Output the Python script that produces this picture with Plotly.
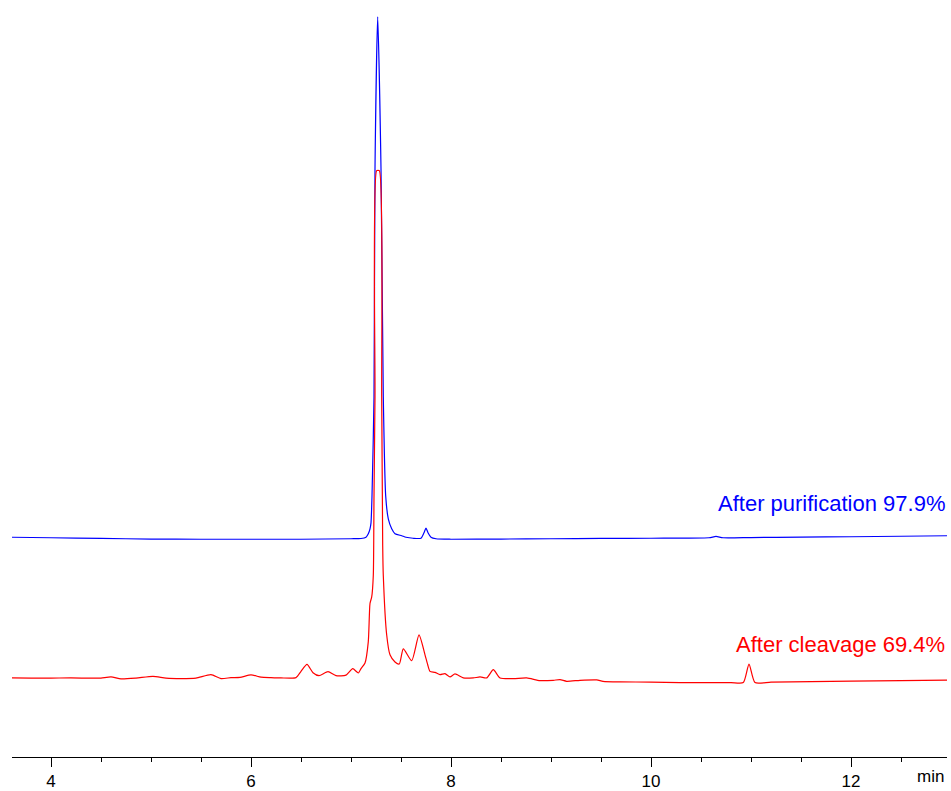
import plotly.graph_objects as go

# Retention time (min) and detector signal (a.u.)
blue_time = [3.61, 4.00, 4.50, 5.00, 5.50, 6.00, 6.50, 7.00, 7.10, 7.15, 7.173, 7.19, 7.20,
             7.21, 7.23, 7.24, 7.267, 7.30, 7.323, 7.347, 7.373, 7.407, 7.44, 7.507, 7.55,
             7.62, 7.70, 7.73, 7.75, 7.77, 7.80, 7.85, 8.00, 8.50, 9.00, 9.50, 10.00, 10.58,
             10.65, 10.72, 11.00, 11.50, 12.00, 12.50, 12.96]
blue_signal = [221.5, 221.0, 220.3, 219.7, 219.5, 219.5, 219.5, 220.0, 220.2, 221.5, 225.0,
               230.0, 236.0, 263.0, 363.0, 593.0, 746.0, 593.0, 363.0, 263.0, 240.0, 230.0,
               225.0, 223.0, 221.5, 220.5, 220.5, 226.0, 230.7, 226.0, 221.5, 220.0, 219.5,
               219.7, 220.0, 220.3, 220.5, 221.0, 222.3, 221.0, 221.2, 221.6, 222.0, 222.5,
               223.0]

red_time = [3.61, 3.80, 4.00, 4.20, 4.40, 4.50, 4.60, 4.70, 4.85, 5.02, 5.15, 5.30, 5.45,
            5.60, 5.70, 5.80, 5.89, 6.00, 6.10, 6.20, 6.30, 6.45, 6.50, 6.56, 6.62, 6.68,
            6.77, 6.85, 6.95, 7.017, 7.073, 7.10, 7.14, 7.173, 7.19, 7.207, 7.223, 7.23,
            7.24, 7.257, 7.283, 7.307, 7.317, 7.323, 7.357, 7.39, 7.44, 7.483, 7.523, 7.607,
            7.68, 7.74, 7.767, 7.79, 7.84, 7.89, 7.94, 7.99, 8.04, 8.123, 8.223, 8.29, 8.357,
            8.423, 8.49, 8.623, 8.757, 8.89, 9.023, 9.09, 9.157, 9.29, 9.457, 9.52, 9.69,
            10.00, 10.29, 10.50, 10.80, 10.923, 10.98, 11.04, 11.20, 11.60, 12.00, 12.50,
            12.96]
red_signal = [79.7, 79.5, 79.5, 79.8, 79.4, 79.6, 80.7, 78.7, 79.5, 81.3, 79.5, 79.0, 79.5,
              83.0, 79.0, 80.0, 80.3, 82.7, 80.5, 80.0, 79.7, 80.0, 86.3, 93.3, 85.0, 82.0,
              86.0, 82.0, 82.5, 89.0, 84.7, 89.0, 94.7, 116.3, 154.7, 161.3, 183.0, 263.0,
              363.0, 591.0, 591.0, 363.0, 213.0, 183.0, 123.0, 103.0, 95.7, 93.7, 109.0, 97.0,
              123.0, 103.0, 93.0, 86.3, 85.3, 83.0, 84.0, 80.7, 83.7, 79.7, 79.7, 80.7, 79.7,
              88.0, 79.7, 79.0, 79.7, 77.0, 77.3, 78.0, 76.3, 77.3, 77.7, 76.3, 75.7, 75.5,
              75.0, 75.0, 75.0, 75.0, 93.7, 75.0, 75.5, 76.0, 76.5, 77.0, 77.5]

tick_values = [4, 6, 8, 10, 12]
tick_labels = ["4", "6", "8", "10", "12"]
label_blue = "After purification 97.9%"
label_red = "After cleavage 69.4%"
x_unit = "min"

font_family = "Arial, Liberation Sans, sans-serif"

fig = go.Figure()
fig.add_trace(go.Scatter(x=blue_time, y=blue_signal, mode="lines",
                         line=dict(color="#0000FF", width=1.2, shape="spline", smoothing=0.6),
                         showlegend=False, hoverinfo="skip"))
fig.add_trace(go.Scatter(x=red_time, y=red_signal, mode="lines",
                         line=dict(color="#FF0000", width=1.2, shape="spline", smoothing=0.6),
                         showlegend=False, hoverinfo="skip"))

fig.add_annotation(x=12.96, y=256, xref="x", yref="y", text=label_blue, showarrow=False,
                   xanchor="right", yanchor="middle",
                   font=dict(family=font_family, size=22, color="#0000FF"))
fig.add_annotation(x=12.96, y=113, xref="x", yref="y", text=label_red, showarrow=False,
                   xanchor="right", yanchor="middle",
                   font=dict(family=font_family, size=22, color="#FF0000"))
fig.add_annotation(x=12.79, y=0, xref="x", yref="paper", text=x_unit, showarrow=False,
                   xanchor="center", yanchor="middle", yshift=-19,
                   font=dict(family=font_family, size=17, color="black"))

fig.update_layout(
    width=951, height=791,
    margin=dict(l=12, r=4, t=0, b=28),
    paper_bgcolor="white", plot_bgcolor="white",
    font=dict(family=font_family, size=17, color="black"),
    xaxis=dict(range=[3.61, 12.96], showgrid=False, zeroline=False,
               showline=True, linecolor="black", linewidth=1,
               ticks="outside", ticklen=9, tickwidth=1, tickcolor="black",
               tickvals=tick_values, ticktext=tick_labels,
               tickfont=dict(size=17, color="black"),
               minor=dict(dtick=0.5, tick0=4, ticks="outside", ticklen=4,
                          tickwidth=1, tickcolor="black", showgrid=False)),
    yaxis=dict(range=[0, 763], visible=False, showgrid=False, zeroline=False),
)

fig.write_html(
    "out.html",
    config={"displayModeBar": False},
    post_script=(
        "document.body.style.margin='0';"
        "document.body.style.overflow='hidden';"
        "document.documentElement.style.overflow='hidden';"
    ),
)
